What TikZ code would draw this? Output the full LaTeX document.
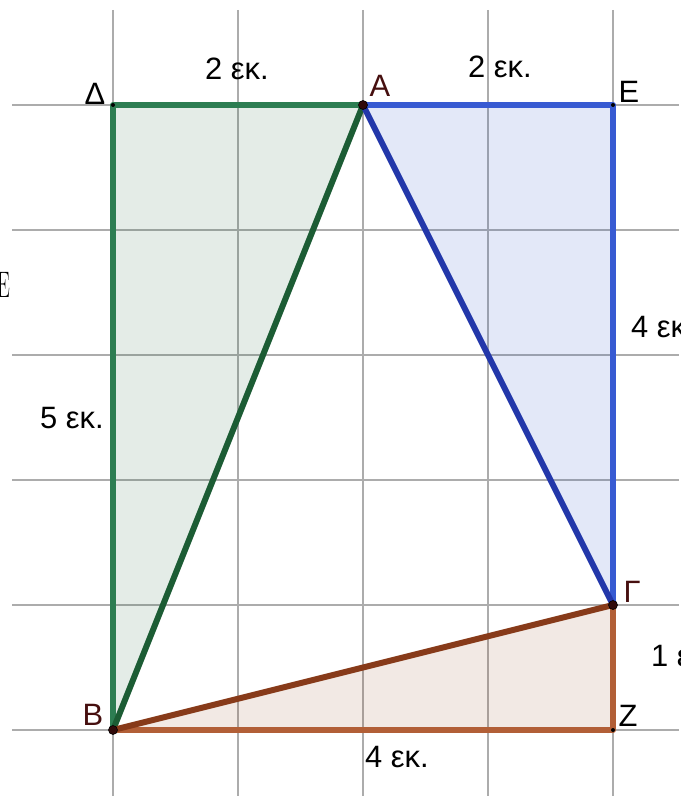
\documentclass[tikz,border=0pt]{standalone}
\usepackage{fontspec}
\setsansfont{Liberation Sans}
\begin{document}
\begin{tikzpicture}[x=1bp,y=-1bp,
  gridline/.style={draw=gridgray,line width=2.2bp},
  lbl/.style={font=\fontsize{31}{31}\sffamily,inner sep=0pt},
  ptlbl/.style={lbl,text=ptred},
  bigdot/.style={circle,fill=ptred!70!black,draw=black,line width=0.6bp,inner sep=0pt,minimum size=9bp},
  smalldot/.style={circle,fill=black,inner sep=0pt,minimum size=4bp},
  edge/.style={line width=6bp,line cap=round,line join=round}]
\definecolor{gridgray}{RGB}{172,172,172}
\definecolor{ptred}{RGB}{70,15,15}
\definecolor{gbase}{RGB}{30,100,60}
\definecolor{gedge}{RGB}{45,125,82}
\definecolor{gdark}{RGB}{28,92,52}
\definecolor{bbase}{RGB}{40,80,200}
\definecolor{bedge}{RGB}{55,90,210}
\definecolor{bdark}{RGB}{35,55,170}
\definecolor{rbase}{RGB}{150,70,30}
\definecolor{redge}{RGB}{178,95,55}
\definecolor{rdark}{RGB}{135,58,25}
\useasboundingbox (0,0) rectangle (691,796);
\begin{scope}
\clip (0,0) rectangle (680,796);
% grid
\foreach \xx in {113,238,363,488,613} \draw[gridline] (\xx,10) -- (\xx,796);
\foreach \yy in {105,230,355,480,605,730} \draw[gridline] (12,\yy) -- (679,\yy);
% points
\coordinate (D) at (113,105);
\coordinate (A) at (363,105);
\coordinate (E) at (613,105);
\coordinate (B) at (113,730);
\coordinate (G) at (613,605);
\coordinate (Z) at (613,730);
% fills
\fill[gbase,fill opacity=0.12] (D) -- (A) -- (B) -- cycle;
\fill[bbase,fill opacity=0.13] (A) -- (E) -- (G) -- cycle;
\fill[rbase,fill opacity=0.12] (B) -- (Z) -- (G) -- cycle;
% edges
\draw[edge,gedge] (A) -- (D) -- (B);
\draw[edge,gdark] (A) -- (B);
\draw[edge,bedge] (A) -- (E) -- (G);
\draw[edge,bdark] (A) -- (G);
\draw[edge,redge] (B) -- (Z) -- (G);
\draw[edge,rdark] (B) -- (G);
% dots
\node[smalldot] (d) at (D) {};
\node[smalldot] (e) at (E) {};
\node[smalldot] (z) at (Z) {};
\node[bigdot] (a) at (A) {};
\node[bigdot] (b) at (B) {};
\node[bigdot] (g) at (G) {};
% point labels
\node[lbl] (lD) at (95,94) {Δ};
\node[ptlbl] (lA) at (380,86) {A};
\node[lbl] (lE) at (629,92) {E};
\node[ptlbl] (lG) at (632,592) {Γ};
\node[lbl] (lZ) at (628,716) {Z};
\node[ptlbl] (lB) at (93,715) {B};
% length labels
\node[lbl] (m1) at (237,69) {2 εκ.};
\node[lbl] (m2) at (500,67) {2 εκ.};
\node[lbl,anchor=west] (m3) at (631,327) {4 εκ.};
\node[lbl] (m4) at (72,418) {5 εκ.};
\node[lbl,anchor=west] (m5) at (651,656) {1 εκ.};
\node[lbl] (m6) at (397,757) {4 εκ.};
% clipped serif glyph at left edge
\node[font=\fontsize{37}{37}\rmfamily,inner sep=0pt,anchor=west,xscale=0.55] (cut) at (-3,285) {E};
\end{scope}
\end{tikzpicture}
\end{document}
